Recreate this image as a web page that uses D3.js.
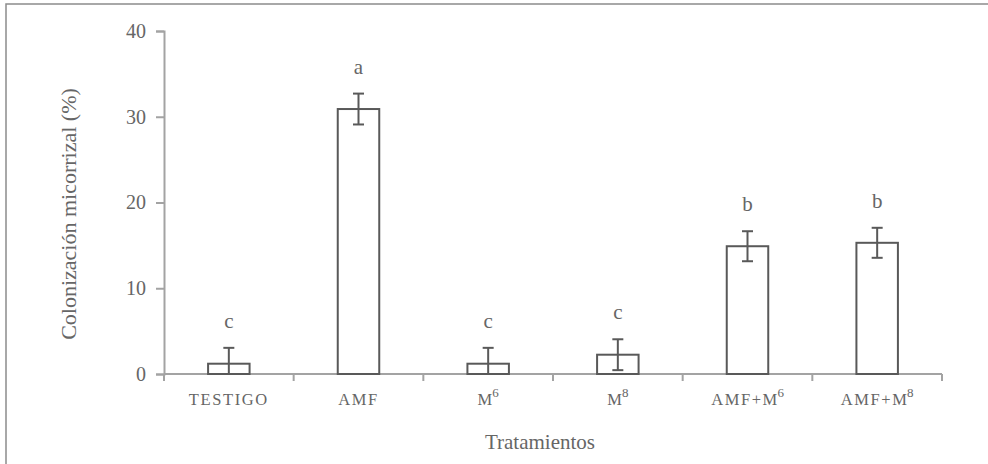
<!DOCTYPE html>
<html>
<head>
<meta charset="utf-8">
<script src="https://cdn.jsdelivr.net/npm/d3@7"></script>
<style>
  body { margin: 0; background: #fff; }
</style>
</head>
<body>
<svg id="chart" width="988" height="464"></svg>
<script>
// categories (base label + superscript part)
const categories = ['TESTIGO', 'AMF', 'M6', 'M8', 'AMF+M6', 'AMF+M8']
const labelBase = ['TESTIGO', 'AMF', 'M', 'M', 'AMF+M', 'AMF+M']
const labelSup = ['', '', '6', '8', '6', '8']
const values = [1.2, 30.9, 1.2, 2.25, 14.9, 15.3]
const errors = [1.85, 1.8, 1.85, 1.8, 1.75, 1.75]
const letters = ['c', 'a', 'c', 'c', 'b', 'b']
const yTicks = [0, 10, 20, 30, 40]

const svg = d3.select('#chart')
const axisColor = '#a3a3a3'
const barColor = '#595959'
const textColor = '#666'
const serif = '"Liberation Serif", "Times New Roman", "DejaVu Serif", serif'

// outer frame (only left and top visible)
svg.append('rect')
  .attr('x', 6).attr('y', 4)
  .attr('width', 1000).attr('height', 500)
  .attr('fill', 'none')
  .attr('stroke', '#8c8c8c')
  .attr('stroke-width', 1.5)

const x = d3.scaleBand()
  .domain(categories)
  .range([164, 942])
  .paddingInner(0.68)
  .paddingOuter(0.34)

const y = d3.scaleLinear()
  .domain([0, 40])
  .range([374, 31])

const idx = d => categories.indexOf(d)
const center = d => x(d) + x.bandwidth() / 2
const errTop = d => y(values[idx(d)] + errors[idx(d)])
const errLow = d => y(Math.max(0, values[idx(d)] - errors[idx(d)]))

const g = svg.append('g')

// y axis
const yAxis = g.append('g')
  .attr('transform', 'translate(164,0)')
  .call(d3.axisLeft(y).tickValues(yTicks).tickSize(8).tickPadding(10))
yAxis.attr('font-family', null)
yAxis.select('.domain').attr('stroke', axisColor).attr('stroke-width', 2)
yAxis.selectAll('.tick line').attr('stroke', axisColor).attr('stroke-width', 2)
yAxis.selectAll('.tick text')
  .style('font-size', '20px')

// x axis line and category boundary ticks
const step = x.step()
const x0 = x.range()[0]
const bounds = d3.range(categories.length + 1).map(i => x0 + i * step)
g.append('line')
  .attr('x1', x0).attr('x2', x.range()[1])
  .attr('y1', y(0)).attr('y2', y(0))
  .attr('stroke', axisColor).attr('stroke-width', 2)
g.selectAll('.xtick')
  .data(bounds)
  .join('line')
  .attr('class', 'xtick')
  .attr('x1', d => d).attr('x2', d => d)
  .attr('y1', y(0)).attr('y2', y(0) + 7)
  .attr('stroke', axisColor).attr('stroke-width', 2)

// bars
g.selectAll('.bar')
  .data(categories)
  .join('rect')
  .attr('class', 'bar')
  .attr('x', d => x(d))
  .attr('y', d => y(values[idx(d)]))
  .attr('width', x.bandwidth())
  .attr('height', d => y(0) - y(values[idx(d)]))
  .attr('fill', '#fff')
  .attr('stroke', barColor)
  .attr('stroke-width', 2)

// error bars
const capHalf = 5.5
const errG = g.selectAll('.err')
  .data(categories)
  .join('g')
  .attr('class', 'err')
  .attr('stroke', barColor)
  .attr('stroke-width', 2)
errG.append('line')
  .attr('x1', center).attr('x2', center)
  .attr('y1', errTop)
  .attr('y2', errLow)
errG.append('line')
  .attr('x1', d => center(d) - capHalf).attr('x2', d => center(d) + capHalf)
  .attr('y1', errTop).attr('y2', errTop)
errG.filter(d => values[idx(d)] - errors[idx(d)] > 0)
  .append('line')
  .attr('x1', d => center(d) - capHalf).attr('x2', d => center(d) + capHalf)
  .attr('y1', errLow).attr('y2', errLow)

// significance letters
g.selectAll('.letter')
  .data(categories)
  .join('text')
  .attr('class', 'letter')
  .attr('x', center)
  .attr('y', d => errTop(d) - 20)
  .attr('text-anchor', 'middle')
  .style('font-size', '21px')
  .text(d => letters[idx(d)])

// category labels
const lab = g.selectAll('.xlab')
  .data(categories)
  .join('text')
  .attr('class', 'xlab')
  .attr('x', center)
  .attr('y', 405)
  .attr('text-anchor', 'middle')
  .style('font-size', '16.5px')
  .style('letter-spacing', '1.6px')
lab.append('tspan').text(d => labelBase[idx(d)])
lab.append('tspan')
  .attr('dx', -1.5)
  .attr('dy', -8)
  .style('font-size', '13px')
  .style('letter-spacing', '0px')
  .text(d => labelSup[idx(d)])

// axis titles
g.append('text')
  .attr('transform', 'translate(76,214) rotate(-90)')
  .attr('text-anchor', 'middle')
  .style('font-size', '22px')
  .text('Colonización micorrizal (%)')

g.append('text')
  .attr('x', 540)
  .attr('y', 449)
  .attr('text-anchor', 'middle')
  .style('font-size', '21px')
  .text('Tratamientos')

svg.selectAll('text')
  .style('font-family', serif)
  .attr('fill', textColor)
</script>
</body>
</html>
